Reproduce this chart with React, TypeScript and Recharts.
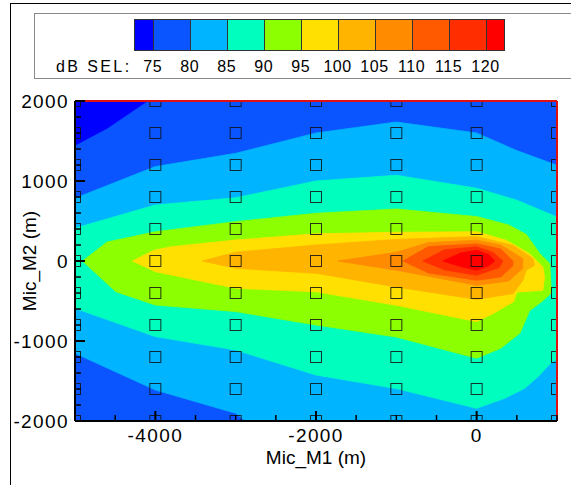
import { Label, ReferenceLine, Scatter, ScatterChart, XAxis, YAxis } from "recharts";

// contour levels (dB SEL) and the band colours between them
const levels = [75, 80, 85, 90, 95, 100, 105, 110, 115, 120];
const bandColors = [
  "#0000ff", "#0a55ff", "#00b4ff", "#00ffbf", "#8cff00", "#ffe000",
  "#ffb400", "#ff8c00", "#ff5a00", "#ff2d00", "#ff0000",
];

const xDomain = [-5000, 1000];
const yDomain = [-2000, 2000];
const xTicks = [-5000, -4500, -4000, -3500, -3000, -2500, -2000, -1500, -1000, -500, 0, 500, 1000];
const xLabels = [-4000, -2000, 0];
const yTicks = [
  -2000, -1800, -1600, -1400, -1200, -1000, -800, -600, -400, -200, 0,
  200, 400, 600, 800, 1000, 1200, 1400, 1600, 1800, 2000,
];
const yLabels = [-2000, -1000, 0, 1000, 2000];

// microphone grid
const micX = [-5000, -4000, -3000, -2000, -1000, 0, 1000];
const micY = [-2000, -1600, -1200, -800, -400, 0, 400, 800, 1200, 1600, 2000];

// contour regions, [x, y] in metres
const plotFrame = [[-5000, -2000], [-5000, 2000], [1000, 2000], [1000, -2000]];
const below75 = [[-5000, 2000], [-4100, 2000], [-4600, 1660], [-5000, 1446]];
const above80 = [
  [-5000, 784], [-4000, 1180], [-3000, 1346], [-2000, 1600], [-1000, 1737], [0, 1600],
  [500, 1380], [1000, 1196], [1000, -2000], [-2880, -2000], [-3000, -1904],
  [-4000, -1612], [-5000, -1154],
];
const above85 = [
  [-5000, 410], [-4000, 700], [-3000, 790], [-2000, 1000], [-1000, 1071], [0, 909],
  [500, 760], [1000, 550], [1000, -1230], [930, -1266], [780, -1430], [600, -1590],
  [350, -1716], [0, -1841], [-1000, -1595], [-2000, -1425], [-3000, -1112],
  [-4000, -945], [-5000, -591],
];
const above90 = [
  [-4906, 0], [-4600, 237], [-4000, 365], [-3000, 492], [-2000, 596], [-1000, 650],
  [0, 555], [400, 450], [620, 330], [780, 100], [910, -30], [930, -400], [820, -500],
  [660, -620], [540, -900], [300, -1090], [0, -1216], [-1000, -950], [-2000, -800],
  [-3000, -632], [-4000, -550], [-4492, -383],
];
const above95 = [
  [-4285, 0], [-4020, 134], [-3788, 180], [-3000, 262], [-2000, 340], [-1000, 359],
  [0, 365], [369, 259], [658, 92], [824, -75], [845, -200], [824, -366], [500, -390],
  [460, -508], [211, -654], [0, -758], [-1000, -554], [-2000, -385], [-3000, -341],
  [-4000, -133],
];
const above100 = [
  [-3416, 0], [-3000, 110], [-2000, 200], [-1000, 270], [0, 305], [451, 196],
  [699, 30], [720, -54], [617, -116], [576, -241], [451, -408], [0, -480],
  [-1000, -325], [-2000, -154], [-3000, -91],
];
const above105 = [
  [-1726, 0], [-1000, 109], [-600, 230], [0, 260], [300, 200], [575, 30],
  [575, -90], [400, -250], [0, -304], [-1000, -116],
];
const above110 = [
  [-919, 0], [-600, 180], [0, 215], [300, 150], [451, 0], [451, -60],
  [300, -200], [0, -241], [-600, -150],
];
const above115 = [
  [-671, 0], [-400, 140], [0, 177], [200, 110], [327, 0], [280, -80],
  [0, -179], [-400, -110],
];
const above120 = [
  [-422, 0], [-200, 100], [0, 134], [150, 80], [224, 0], [150, -60],
  [0, -116], [-200, -70],
];

const regions = [
  { pts: plotFrame, color: bandColors[1] },
  { pts: below75, color: bandColors[0] },
  { pts: above80, color: bandColors[2] },
  { pts: above85, color: bandColors[3] },
  { pts: above90, color: bandColors[4] },
  { pts: above95, color: bandColors[5] },
  { pts: above100, color: bandColors[6] },
  { pts: above105, color: bandColors[7] },
  { pts: above110, color: bandColors[8] },
  { pts: above115, color: bandColors[9] },
  { pts: above120, color: bandColors[10] },
];

const micPoints = micX.flatMap((x) => micY.map((y) => ({ x, y })));
const toRows = (pts: number[][]) => pts.map(([x, y]) => ({ x, y }));
const noDot = () => <g />;

const MicSquare = (props: any) => {
  const { cx, cy } = props;
  return (
    <rect x={cx - 5.5} y={cy - 5.5} width={11} height={11} fill="none" stroke="#111" strokeOpacity={0.85} />
  );
};

const FONT = "Liberation Sans, Arial, sans-serif";
const tickFont = { fontFamily: FONT, fontSize: 19, fill: "#000", letterSpacing: 1.4 };

const YTick = (props: any) => {
  const { x, y, payload } = props;
  const major = yLabels.includes(payload.value);
  return (
    <g>
      <line x1={x} x2={x + (major ? 10 : 6)} y1={y} y2={y} stroke="#000" strokeWidth={major ? 2 : 1.5} />
      {major && (
        <text x={x - 6} y={y} dy="0.36em" textAnchor="end" {...tickFont}>
          {payload.value}
        </text>
      )}
    </g>
  );
};

const XTick = (props: any) => {
  const { x, y, payload } = props;
  const major = xLabels.includes(payload.value);
  return (
    <g>
      <line x1={x} x2={x} y1={y} y2={y - (major ? 10 : 6)} stroke="#000" strokeWidth={major ? 2 : 1.5} />
      {major && (
        <text x={x} y={y + 21} textAnchor="middle" {...tickFont}>
          {payload.value}
        </text>
      )}
    </g>
  );
};

const YTitle = (props: any) => {
  const { viewBox } = props;
  const x = viewBox.x + 36;
  const y = viewBox.y + viewBox.height / 2;
  return (
    <text x={x} y={y} transform={`rotate(-90, ${x}, ${y})`} textAnchor="middle" fontFamily={FONT} fontSize={19} fill="#000">
      Mic_M2 (m)
    </text>
  );
};

const ColorBar = () => {
  const unit = 36.97;
  const left = 134.3;
  return (
    <>
      <div style={{ position: "absolute", left, top: 19, height: 30, display: "flex", border: "1px solid #333" }}>
        {bandColors.map((c, i) => (
          <div
            key={c}
            style={{
              width: i === 0 || i === bandColors.length - 1 ? unit / 2 - 1 : unit - 1,
              height: 30,
              background: c,
              borderRight: i < bandColors.length - 1 ? "1px solid #333" : "none",
            }}
          />
        ))}
      </div>
      <span style={{ position: "absolute", left: 56, top: 58, fontSize: 16, letterSpacing: 2.4, whiteSpace: "nowrap" }}>
        dB SEL:
      </span>
      {levels.map((lv, i) => (
        <span
          key={lv}
          style={{
            position: "absolute",
            left: left + unit / 2 + i * unit - 25,
            width: 50,
            top: 58,
            textAlign: "center",
            fontSize: 16,
            letterSpacing: 0.6,
          }}
        >
          {lv}
        </span>
      ))}
    </>
  );
};

export default function App() {
  return (
    <div
      style={{
        position: "absolute",
        left: 0,
        top: 0,
        width: 571,
        height: 485,
        overflow: "hidden",
        background: "#fff",
        fontFamily: FONT,
        color: "#000",
      }}
    >
      <div style={{ position: "absolute", left: 10, top: 3, width: 700, height: 700, borderLeft: "1px solid #000", borderTop: "1px solid #000" }} />
      <div style={{ position: "absolute", left: 34, top: 13, width: 700, height: 64, border: "1.5px solid #8a8a8a" }} />
      <ColorBar />
      <div style={{ position: "absolute", left: 0, top: 0 }}>
        <ScatterChart width={571} height={485} margin={{ top: 101, right: 14, bottom: 0, left: 0 }}>
          {regions.map((r, i) => (
            <Scatter
              key={i}
              data={toRows(r.pts)}
              fill={r.color}
              shape={noDot}
              line={{ fill: r.color, stroke: r.color, strokeWidth: 0.8 }}
              lineJointType="linearClosed"
              isAnimationActive={false}
              zIndex={100}
            />
          ))}
          <Scatter data={micPoints} shape={MicSquare} isAnimationActive={false} zIndex={150} />
          <ReferenceLine y={2000} stroke="#e01010" strokeWidth={2} />
          <ReferenceLine x={1000} stroke="#e01010" strokeWidth={2} />
          <XAxis
            type="number"
            dataKey="x"
            domain={xDomain}
            allowDataOverflow
            ticks={xTicks}
            interval={0}
            height={64}
            tickSize={0}
            tickMargin={0}
            tickLine={false}
            tick={XTick}
            axisLine={{ stroke: "#000", strokeWidth: 2 }}
            label={{ value: "Mic_M1 (m)", position: "insideBottom", offset: 21, fontSize: 19, fontFamily: FONT, fill: "#000" }}
          />
          <YAxis
            type="number"
            dataKey="y"
            domain={yDomain}
            allowDataOverflow
            ticks={yTicks}
            interval={0}
            width={75}
            tickSize={0}
            tickMargin={0}
            tickLine={false}
            tick={YTick}
            axisLine={{ stroke: "#000", strokeWidth: 2 }}
          >
            <Label content={YTitle} />
          </YAxis>
        </ScatterChart>
      </div>
    </div>
  );
}
